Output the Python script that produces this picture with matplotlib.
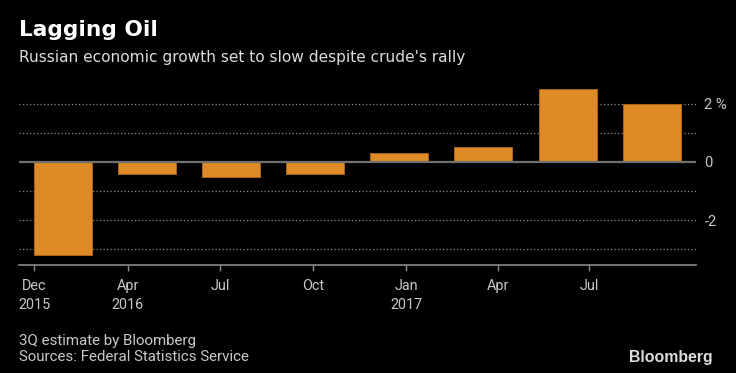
import numpy as np
import matplotlib
matplotlib.use('Agg')
from matplotlib import pyplot as plt

# quarterly GDP growth, % y/y (3Q17 = Bloomberg estimate)
quarters = ['4Q15', '1Q16', '2Q16', '3Q16', '4Q16', '1Q17', '2Q17', '3Q17']
growth = [-3.2, -0.4, -0.5, -0.4, 0.3, 0.5, 2.5, 2.0]

tick_labels = ['Dec\n2015', 'Apr\n2016', 'Jul', 'Oct', 'Jan\n2017', 'Apr', 'Jul']
y_ticks = [2, 0, -2]
y_labels = ['2 %', '0', '-2']

narrow = ['Roboto', 'DejaVu Sans']
bar_col = '#de8a26'
txt_col = '#c8c8c8'

fig = plt.figure(figsize=(7.36, 3.73), dpi=100, facecolor='black')
ax = fig.add_axes([0.0262, 0.2903, 0.9195, 0.4783], facecolor='black')

x = np.arange(len(quarters))
ax.bar(x, growth, width=0.69, color=bar_col, edgecolor='#a8641a', linewidth=0.7, zorder=3)

# dotted grid, solid zero line
for lvl in [2, 1, -1, -2, -3]:
    ax.axhline(lvl, color='#8a8a8a', lw=0.9, ls=(0, (1, 1.8)), zorder=1)
ax.axhline(0, color='#707070', lw=1.6, zorder=4)

ax.set_xlim(-0.516, 7.526)
ax.set_ylim(-3.53, 2.6)

# month ticks don't line up evenly with the quarter bars
tick_pos = [-0.34, 0.77, 1.87, 2.98, 4.08, 5.17, 6.26]
ax.set_xticks(tick_pos)
ax.set_xticklabels(tick_labels, family=narrow, fontsize=10.4, color=txt_col)
for lbl in ax.get_xticklabels():
    lbl.set_linespacing(1.5)
ax.tick_params(axis='x', length=4.5, width=1, color='#8a8a8a', pad=5.5)

ax.yaxis.tick_right()
ax.set_yticks(y_ticks)
ax.set_yticklabels(y_labels, family=narrow, fontsize=10.6, color=txt_col)
ax.tick_params(axis='y', length=0, pad=6)

for s in ['top', 'left', 'right']:
    ax.spines[s].set_visible(False)
ax.spines['bottom'].set_color('#8a8a8a')
ax.spines['bottom'].set_linewidth(1.2)

fig.text(0.0258, 0.9035, 'Lagging Oil', fontsize=15.6, fontweight='bold',
         color='white', family='DejaVu Sans', va='baseline')
fig.text(0.0258, 0.8338, "Russian economic growth set to slow despite crude's rally",
         fontsize=11.1, color='#dddddd', family='DejaVu Sans', va='baseline')
fig.text(0.0258, 0.075, '3Q estimate by Bloomberg', fontsize=10.9,
         color=txt_col, family=narrow, va='baseline')
fig.text(0.0258, 0.0322, 'Sources: Federal Statistics Service', fontsize=10.9,
         color=txt_col, family=narrow, va='baseline')
fig.text(0.9688, 0.0295, 'Bloomberg', fontsize=11.4, fontweight='bold',
         color='#dddddd', family='Liberation Sans', ha='right', va='baseline')

fig.savefig('out.png', dpi=100, facecolor='black')
